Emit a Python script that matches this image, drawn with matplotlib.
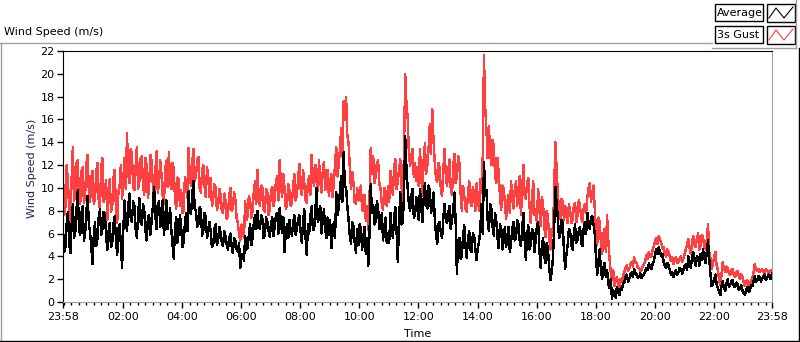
import numpy as np
import matplotlib.pyplot as plt
from matplotlib.lines import Line2D
from matplotlib.patches import Rectangle

# readings every 5 minutes from 23:58 (one row per hour)
gust_rows = [
    [11.2, 8.4, 10.6, 7.0, 13.6, 9.2, 12.4, 8.6, 11.8, 9.4, 12.9, 8.8],
    [11.5, 9.0, 12.2, 8.1, 12.6, 9.6, 7.2, 10.8, 8.4, 11.6, 6.9, 10.2],
    [9.0, 12.6, 14.8, 10.4, 12.9, 9.8, 13.6, 10.6, 12.8, 9.4, 11.9, 10.2],
    [12.3, 8.9, 13.2, 10.4, 11.2, 8.6, 12.4, 13.1, 9.9, 11.6, 8.2, 10.8],
    [9.8, 8.0, 10.6, 13.5, 10.2, 13.4, 11.0, 12.7, 9.6, 12.0, 9.2, 10.9],
    [10.9, 9.0, 10.0, 8.4, 9.4, 7.8, 8.9, 7.6, 10.0, 8.2, 9.0, 6.9],
    [5.4, 6.2, 8.8, 7.5, 9.0, 8.0, 10.6, 11.6, 8.4, 10.0, 7.9, 9.6],
    [8.2, 10.1, 9.0, 11.0, 12.4, 9.2, 10.0, 8.5, 9.8, 8.7, 11.2, 9.4],
    [12.1, 9.4, 10.4, 8.7, 11.0, 12.9, 10.2, 11.4, 12.4, 9.6, 12.3, 10.4],
    [9.3, 11.2, 10.4, 13.6, 12.0, 15.2, 17.6, 18.0, 13.9, 9.9, 10.4, 8.6],
    [8.9, 10.2, 8.0, 7.1, 6.3, 13.5, 12.8, 11.0, 12.4, 9.9, 8.1, 9.6],
    [10.2, 11.5, 9.4, 12.5, 10.6, 12.5, 8.8, 20.0, 16.2, 11.9, 13.4, 12.2],
    [11.8, 13.4, 9.3, 13.9, 12.0, 15.6, 16.9, 12.3, 10.5, 11.7, 9.3, 13.4],
    [10.2, 12.5, 9.4, 13.0, 11.0, 12.2, 8.0, 9.3, 7.9, 10.6, 8.4, 9.3],
    [10.4, 8.0, 9.6, 21.6, 15.1, 15.4, 12.0, 13.6, 10.4, 11.2, 8.1, 10.0],
    [7.3, 9.4, 10.6, 8.2, 10.6, 9.9, 7.6, 12.0, 9.0, 10.9, 6.9, 10.6],
    [8.1, 9.9, 6.7, 8.6, 5.7, 7.4, 4.6, 5.8, 14.0, 9.4, 7.3, 8.8],
    [8.4, 6.9, 8.0, 7.2, 8.7, 7.6, 8.4, 7.0, 8.6, 9.2, 10.4, 9.6],
    [8.2, 5.0, 7.0, 4.2, 6.4, 7.6, 3.8, 1.9, 1.4, 2.2, 1.2, 1.8],
    [2.6, 3.2, 2.9, 3.5, 3.9, 3.4, 3.0, 2.8, 3.3, 4.1, 4.4, 4.0],
    [4.9, 5.6, 5.8, 5.2, 4.8, 4.0, 4.4, 3.6, 3.3, 3.9, 3.5, 4.0],
    [3.8, 4.6, 5.5, 4.2, 5.8, 4.8, 6.0, 5.0, 5.6, 4.6, 6.8, 3.8],
    [3.4, 4.4, 2.8, 1.5, 3.5, 2.6, 3.0, 2.4, 2.9, 2.2, 2.7, 2.0],
    [2.2, 1.4, 1.9, 1.5, 2.0, 3.3, 2.7, 2.6, 2.9, 2.5, 2.8, 2.6, 2.7],
]
# readings 2.5 minutes after each of the above
gust_mid_rows = [
    [7.6, 12.0, 8.2, 10.8, 8.9, 12.2, 9.0, 11.4, 8.7, 12.1, 9.6, 10.9],
    [8.6, 11.4, 9.0, 11.8, 8.8, 10.7, 9.4, 7.9, 10.9, 8.2, 9.6, 12.0],
    [10.8, 9.9, 11.2, 13.4, 10.1, 11.9, 9.9, 12.5, 10.2, 12.6, 9.1, 12.9],
    [10.2, 11.4, 9.6, 12.4, 9.3, 11.6, 10.1, 10.6, 12.2, 9.0, 10.9, 8.4],
    [7.8, 10.9, 9.1, 11.0, 12.3, 10.6, 12.4, 10.0, 11.6, 10.1, 11.8, 9.2],
    [8.4, 10.3, 8.1, 9.9, 8.0, 9.5, 7.3, 9.3, 8.0, 9.6, 7.4, 6.0],
    [6.8, 5.6, 7.2, 9.3, 7.4, 9.6, 8.6, 9.2, 10.2, 8.1, 9.9, 7.6],
    [9.7, 8.4, 10.6, 8.9, 10.4, 11.2, 8.2, 10.3, 8.4, 10.2, 8.9, 10.8],
    [10.0, 11.6, 9.0, 10.6, 9.4, 10.8, 12.0, 9.7, 10.6, 11.4, 9.8, 11.6],
    [10.5, 9.2, 12.1, 11.0, 13.4, 12.8, 16.0, 14.6, 11.8, 11.4, 8.7, 10.0],
    [9.8, 8.1, 9.4, 8.4, 9.1, 11.2, 10.4, 12.2, 10.4, 8.6, 10.0, 8.4],
    [8.8, 10.0, 11.8, 9.9, 11.6, 10.2, 13.0, 17.4, 13.0, 12.8, 11.0, 10.6],
    [10.2, 11.2, 12.4, 11.2, 13.4, 13.0, 14.2, 10.9, 12.2, 9.8, 11.6, 11.0],
    [11.6, 10.0, 11.8, 10.4, 12.8, 9.6, 10.2, 8.2, 9.4, 8.8, 10.1, 8.0],
    [9.2, 10.8, 12.8, 17.0, 12.6, 13.1, 14.2, 11.2, 12.6, 9.2, 10.2, 8.6],
    [8.8, 7.8, 9.0, 9.8, 8.4, 11.0, 9.6, 9.4, 10.4, 8.4, 8.8, 7.6],
    [7.0, 8.2, 9.2, 6.6, 8.0, 5.6, 6.4, 9.6, 11.6, 8.2, 9.0, 7.2],
    [7.6, 8.6, 6.9, 8.4, 7.0, 8.9, 7.4, 8.2, 7.8, 10.0, 8.8, 10.2],
    [6.0, 7.4, 5.2, 6.0, 4.4, 5.4, 2.6, 2.8, 2.0, 1.5, 2.0, 2.3],
    [3.0, 2.7, 3.3, 3.1, 3.5, 3.0, 2.7, 3.1, 3.6, 3.8, 4.0, 4.6],
    [5.3, 5.1, 5.5, 4.7, 4.3, 4.6, 3.9, 3.9, 3.7, 3.4, 3.8, 3.5],
    [4.2, 5.0, 4.8, 5.2, 5.0, 5.6, 4.6, 5.9, 4.9, 5.4, 4.4, 2.9],
    [3.9, 3.2, 2.0, 2.4, 2.9, 3.1, 2.5, 2.8, 2.4, 2.6, 2.3, 2.4],
    [1.7, 1.8, 1.5, 1.9, 2.6, 2.8, 2.9, 2.8, 2.6, 2.9, 2.5, 2.8],
]
avg_rows = [
    [6.4, 4.8, 7.9, 4.3, 8.6, 6.2, 9.8, 5.9, 8.4, 6.0, 9.3, 6.1],
    [3.3, 7.0, 5.6, 8.1, 6.4, 7.8, 4.6, 6.9, 5.2, 7.5, 4.1, 6.8],
    [3.0, 8.9, 6.2, 9.5, 7.0, 8.4, 5.6, 9.1, 6.8, 8.0, 5.4, 7.6],
    [7.1, 10.1, 6.4, 8.8, 7.6, 5.9, 8.9, 7.2, 6.3, 3.8, 7.4, 6.1],
    [6.6, 5.3, 7.8, 9.7, 7.7, 10.6, 8.0, 6.8, 8.1, 6.3, 7.4, 6.2],
    [6.2, 5.0, 6.8, 5.4, 6.1, 4.9, 5.8, 4.6, 6.0, 4.3, 5.4, 4.4],
    [3.0, 4.2, 5.8, 4.7, 6.8, 5.6, 7.6, 8.0, 6.4, 7.3, 5.9, 7.0],
    [5.7, 7.4, 6.6, 7.8, 8.2, 6.1, 4.4, 6.8, 7.2, 5.8, 7.6, 6.4],
    [7.6, 5.2, 8.1, 4.1, 6.0, 8.4, 6.3, 10.0, 7.4, 6.0, 8.1, 5.6],
    [5.9, 4.7, 7.0, 9.6, 8.2, 11.0, 13.1, 10.0, 7.2, 5.1, 6.6, 4.3],
    [5.0, 6.4, 5.8, 4.2, 3.2, 10.3, 8.5, 7.0, 8.2, 6.6, 5.4, 7.4],
    [6.0, 7.8, 5.6, 8.3, 3.5, 9.6, 7.0, 14.5, 10.0, 8.0, 9.9, 7.6],
    [8.4, 9.9, 7.0, 10.4, 8.2, 9.8, 8.6, 7.4, 5.1, 7.0, 5.6, 8.6],
    [6.9, 8.4, 7.2, 9.6, 2.5, 5.6, 4.0, 6.7, 3.9, 6.2, 4.4, 5.8],
    [3.7, 5.2, 8.6, 12.3, 9.8, 6.2, 8.2, 5.8, 7.1, 4.7, 6.5, 5.4],
    [4.8, 6.6, 5.2, 7.0, 5.6, 6.8, 4.9, 7.8, 3.7, 6.7, 5.0, 6.2],
    [5.4, 7.0, 3.0, 5.6, 3.4, 4.6, 1.9, 3.8, 10.1, 7.4, 6.0, 6.9],
    [2.9, 5.0, 6.2, 4.6, 6.8, 5.4, 6.6, 4.9, 7.0, 7.8, 6.4, 7.5],
    [6.0, 2.4, 4.6, 2.0, 3.4, 2.8, 1.2, 0.3, 0.8, 1.3, 0.6, 1.1],
    [1.7, 2.4, 2.0, 2.6, 2.9, 2.4, 2.2, 2.1, 2.4, 3.0, 3.4, 2.9],
    [3.6, 4.6, 4.8, 4.0, 3.5, 3.0, 3.2, 2.4, 2.2, 2.8, 2.6, 2.9],
    [2.8, 3.3, 4.0, 3.0, 4.4, 3.2, 3.8, 4.2, 4.6, 3.4, 5.4, 2.4],
    [1.6, 2.4, 1.2, 0.6, 1.8, 1.0, 2.0, 1.5, 1.9, 1.3, 1.6, 1.2],
    [1.0, 0.6, 1.3, 1.0, 1.4, 2.3, 1.9, 2.2, 2.0, 2.4, 2.1, 2.3, 2.5],
]
avg_mid_rows = [
    [4.4, 6.9, 5.2, 6.8, 5.6, 8.2, 6.4, 7.8, 5.4, 8.0, 6.8, 4.8],
    [5.8, 4.9, 7.4, 5.9, 7.9, 5.8, 6.2, 4.8, 6.8, 5.6, 6.4, 5.1],
    [6.4, 7.2, 8.4, 7.4, 8.8, 6.4, 7.6, 7.0, 8.6, 6.2, 7.4, 5.9],
    [8.4, 7.6, 8.6, 6.6, 8.9, 7.2, 6.4, 8.2, 5.0, 6.4, 5.2, 7.6],
    [4.8, 6.8, 6.2, 8.0, 9.4, 8.2, 6.6, 8.3, 5.8, 7.8, 5.6, 7.0],
    [4.8, 6.4, 5.0, 6.6, 5.2, 6.2, 5.0, 5.6, 4.9, 5.6, 4.6, 5.2],
    [4.0, 3.6, 4.6, 5.9, 5.0, 6.9, 6.4, 6.6, 7.6, 5.6, 7.4, 6.2],
    [6.9, 5.8, 7.6, 6.0, 7.0, 7.4, 6.2, 5.6, 6.2, 7.0, 5.9, 7.2],
    [6.2, 7.0, 5.8, 6.8, 7.6, 6.4, 8.0, 7.0, 8.4, 7.2, 6.4, 7.4],
    [7.2, 6.0, 5.6, 7.6, 9.8, 8.8, 10.2, 8.4, 5.8, 7.0, 5.2, 6.4],
    [6.8, 4.6, 6.6, 5.6, 6.0, 7.8, 6.8, 8.8, 6.4, 7.8, 6.6, 5.2],
    [5.2, 6.4, 7.4, 6.2, 7.0, 6.8, 9.2, 11.8, 8.6, 9.4, 7.4, 9.2],
    [7.2, 8.4, 9.0, 8.6, 10.2, 7.8, 9.6, 6.0, 6.8, 6.0, 7.4, 7.2],
    [7.8, 6.4, 8.0, 7.0, 5.4, 3.8, 5.8, 4.8, 5.6, 4.6, 6.0, 4.6],
    [4.8, 6.4, 6.0, 9.4, 7.2, 8.6, 6.6, 7.8, 5.6, 6.8, 4.6, 6.6],
    [5.8, 4.4, 6.4, 5.4, 7.2, 5.4, 6.4, 5.6, 5.8, 4.6, 6.4, 4.4],
    [6.6, 4.6, 4.8, 4.0, 5.2, 3.0, 2.6, 6.4, 8.6, 5.6, 7.2, 4.4],
    [4.2, 6.4, 5.0, 6.0, 5.2, 6.2, 5.2, 6.4, 6.0, 6.6, 7.4, 6.8],
    [3.8, 3.6, 2.8, 3.0, 2.2, 1.6, 2.0, 1.0, 0.4, 0.9, 1.2, 1.6],
    [2.2, 1.8, 2.4, 2.2, 2.6, 2.1, 2.5, 2.3, 2.7, 2.8, 3.0, 3.3],
    [4.2, 4.2, 4.4, 4.2, 3.2, 3.4, 2.8, 2.6, 2.6, 2.4, 3.0, 2.5],
    [3.2, 2.8, 3.4, 3.8, 3.6, 4.0, 3.2, 3.7, 3.9, 4.4, 3.8, 1.4],
    [2.0, 1.6, 0.9, 1.4, 1.2, 1.6, 1.3, 1.8, 1.4, 1.7, 1.1, 1.5],
    [0.8, 1.1, 0.9, 1.5, 1.8, 1.8, 2.3, 1.8, 2.3, 1.9, 2.4, 2.0],
]
tick_labels = ['23:58', '02:00', '04:00', '06:00', '08:00', '10:00', '12:00',
               '14:00', '16:00', '18:00', '20:00', '22:00', '23:58']


def merge(rows, mid_rows):
    main = np.concatenate(rows)
    mid = np.concatenate(mid_rows)
    out = np.empty(len(main) + len(mid))
    out[0::2] = main
    out[1::2] = mid
    return out


gust = merge(gust_rows, gust_mid_rows)
avg = merge(avg_rows, avg_mid_rows)
hours = np.arange(len(gust)) * 2.5 / 60  # hours since 23:58

W, H = 800, 342


def fx(x):
    return x / W


def fy(y):
    return 1 - y / H


plt.rcParams['font.family'] = 'DejaVu Sans'
fig = plt.figure(figsize=(8, 3.42), dpi=100)
ax = fig.add_axes([fx(63), fy(302), (772 - 63) / W, (302 - 51) / H])

ax.plot(hours, gust, color='#ff4040', lw=1, antialiased=False)
ax.plot(hours, avg, color='black', lw=1, antialiased=False)

ax.set_xlim(0, 24)
ax.set_ylim(0, 22)
ax.set_yticks(range(0, 23, 2))

off = 2 / 60  # first full hour after 23:58
major = [0] + [off + 2 * k for k in range(1, 12)] + [24]
ax.set_xticks(major)
ax.set_xticklabels(tick_labels)
minor = [off + 0.25 * k for k in range(96) if k % 8 != 0]
ax.set_xticks(minor + [off], minor=True)

ax.tick_params(axis='both', which='major', labelsize=8, length=4, width=1,
               color='black', pad=2)
ax.tick_params(axis='x', which='minor', length=2.5, width=1, color='black')
ax.tick_params(axis='x', which='major', pad=3)

for s in ['left', 'top']:
    ax.spines[s].set_color('black')
for s in ['right', 'bottom']:
    ax.spines[s].set_color('#a0a0a0')

ax.set_ylabel('Wind Speed (m/s)', fontsize=8, color='#1a2550')
ax.yaxis.set_label_coords(-0.037, 0.534)
ax.set_xlabel('Time', fontsize=8)
ax.xaxis.set_label_coords(0.5, -0.108)

# panel frame and caption
fig.add_artist(Line2D([fx(0), fx(712)], [fy(42.5), fy(42.5)], color='#a0a0a0', lw=1))
fig.add_artist(Line2D([fx(0.5), fx(0.5)], [fy(42.5), fy(341)], color='#a0a0a0', lw=1))
fig.add_artist(Line2D([fx(0), fx(799)], [fy(341), fy(341)], color='black', lw=1))
fig.add_artist(Line2D([fx(798.5), fx(798.5)], [fy(48), fy(341)], color='black', lw=1))
fig.text(fx(4), fy(32), 'Wind Speed (m/s)', fontsize=8, va='center', ha='left')

# legend panel
fig.add_artist(Line2D([fx(712), fx(796)], [fy(48), fy(48)], color='#a0a0a0', lw=1))
fig.add_artist(Line2D([fx(796), fx(796)], [fy(0), fy(48)], color='#a0a0a0', lw=1))
entries = [('Average', 'black', 4), ('3s Gust', '#ff4040', 26)]
for name, col, top in entries:
    fig.add_artist(Rectangle((fx(715), fy(top + 17)), 48 / W, 17 / H,
                             fill=False, edgecolor='black', lw=1))
    fig.text(fx(717), fy(top + 8.5), name, fontsize=8, va='center', ha='left')
    fig.add_artist(Rectangle((fx(767), fy(top + 18)), 28 / W, 18 / H,
                             fill=False, edgecolor='black', lw=1))
    zx = [fx(769), fx(776), fx(784), fx(793)]
    zy = [fy(top + 14), fy(top + 4), fy(top + 14), fy(top + 3)]
    fig.add_artist(Line2D(zx, zy, color=col, lw=0.8))

fig.savefig('out.png', dpi=100)
